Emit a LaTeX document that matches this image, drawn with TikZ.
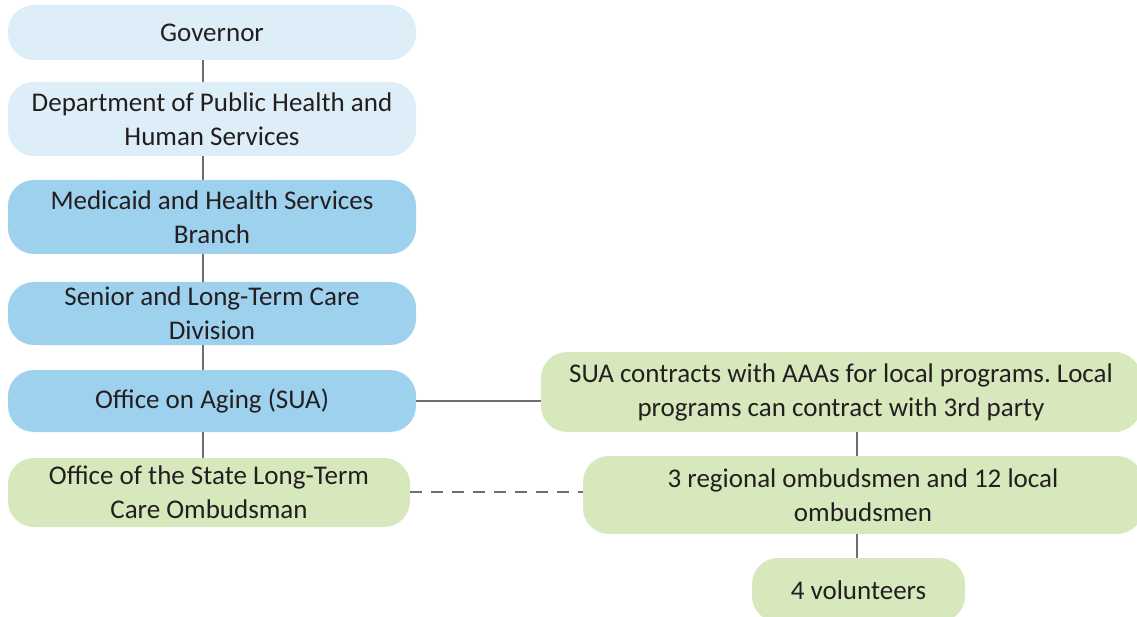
\documentclass[tikz,border=0pt]{standalone}
\usepackage{fontspec}
\setmainfont{Carlito}
\frenchspacing
\definecolor{paleblue}{HTML}{DDEEF8}
\definecolor{midblue}{HTML}{9DD1EE}
\definecolor{palegreen}{HTML}{D6E8BC}
\definecolor{linegray}{HTML}{6D6E71}
\definecolor{txt}{HTML}{231F20}
\begin{document}
\begin{tikzpicture}[x=1pt,y=-1pt,
  box/.style={rounded corners=26pt, inner sep=0pt, align=center, text=txt,
    font=\fontsize{27}{34}\selectfont},
  conn/.style={draw=linegray, line width=2.4pt},
  dconn/.style={draw=linegray, line width=2.4pt, dash pattern=on 12pt off 9pt}]
\useasboundingbox (0,0) rectangle (1137,617);
\begin{scope}
\clip (0,0) rectangle (1137,617);
\node[box, fill=paleblue, minimum width=408pt, minimum height=55pt] (gov) at (212,32.5) {Governor};
\node[box, fill=paleblue, minimum width=408pt, minimum height=74pt] (dph) at (212,119) {Department of Public Health and\\Human Services};
\node[box, fill=midblue, minimum width=408pt, minimum height=74pt] (med) at (212,217) {Medicaid and Health Services\\Branch};
\node[box, fill=midblue, minimum width=408pt, minimum height=63pt] (sen) at (212,313.5) {Senior and Long-Term Care\\Division};
\node[box, fill=midblue, minimum width=408pt, minimum height=62pt] (sua) at (212,401) {Office on Aging (SUA)};
\node[box, fill=palegreen, minimum width=402pt, minimum height=69pt] (ltc) at (209,492.5) {Office of the State Long-Term\\Care Ombudsman};
\node[box, fill=palegreen, minimum width=600pt, minimum height=80pt] (con) at (841,392) {SUA contracts with AAAs for local programs. Local\\programs can contract with 3rd party};
\node[box, fill=palegreen, minimum width=560pt, minimum height=78pt] (reg) at (863,495) {3 regional ombudsmen and 12 local\\ombudsmen};
\node[box, fill=palegreen, minimum width=213pt, minimum height=64pt] (vol) at (858.5,590) {4 volunteers};
\end{scope}
\draw[conn] (gov.south -| 203,0) -- (dph.north -| 203,0);
\draw[conn] (dph.south -| 203,0) -- (med.north -| 203,0);
\draw[conn] (med.south -| 203,0) -- (sen.north -| 203,0);
\draw[conn] (sen.south -| 203,0) -- (sua.north -| 203,0);
\draw[conn] (sua.south -| 203,0) -- (ltc.north -| 203,0);
\draw[conn] (sua.east) -- (sua.east -| con.west);
\draw[dconn] (ltc.east |- 0,492) -- (reg.west |- 0,492);
\draw[conn] (con.south -| 857,0) -- (reg.north -| 857,0);
\draw[conn] (reg.south -| 857,0) -- (vol.north -| 857,0);
\end{tikzpicture}
\end{document}
